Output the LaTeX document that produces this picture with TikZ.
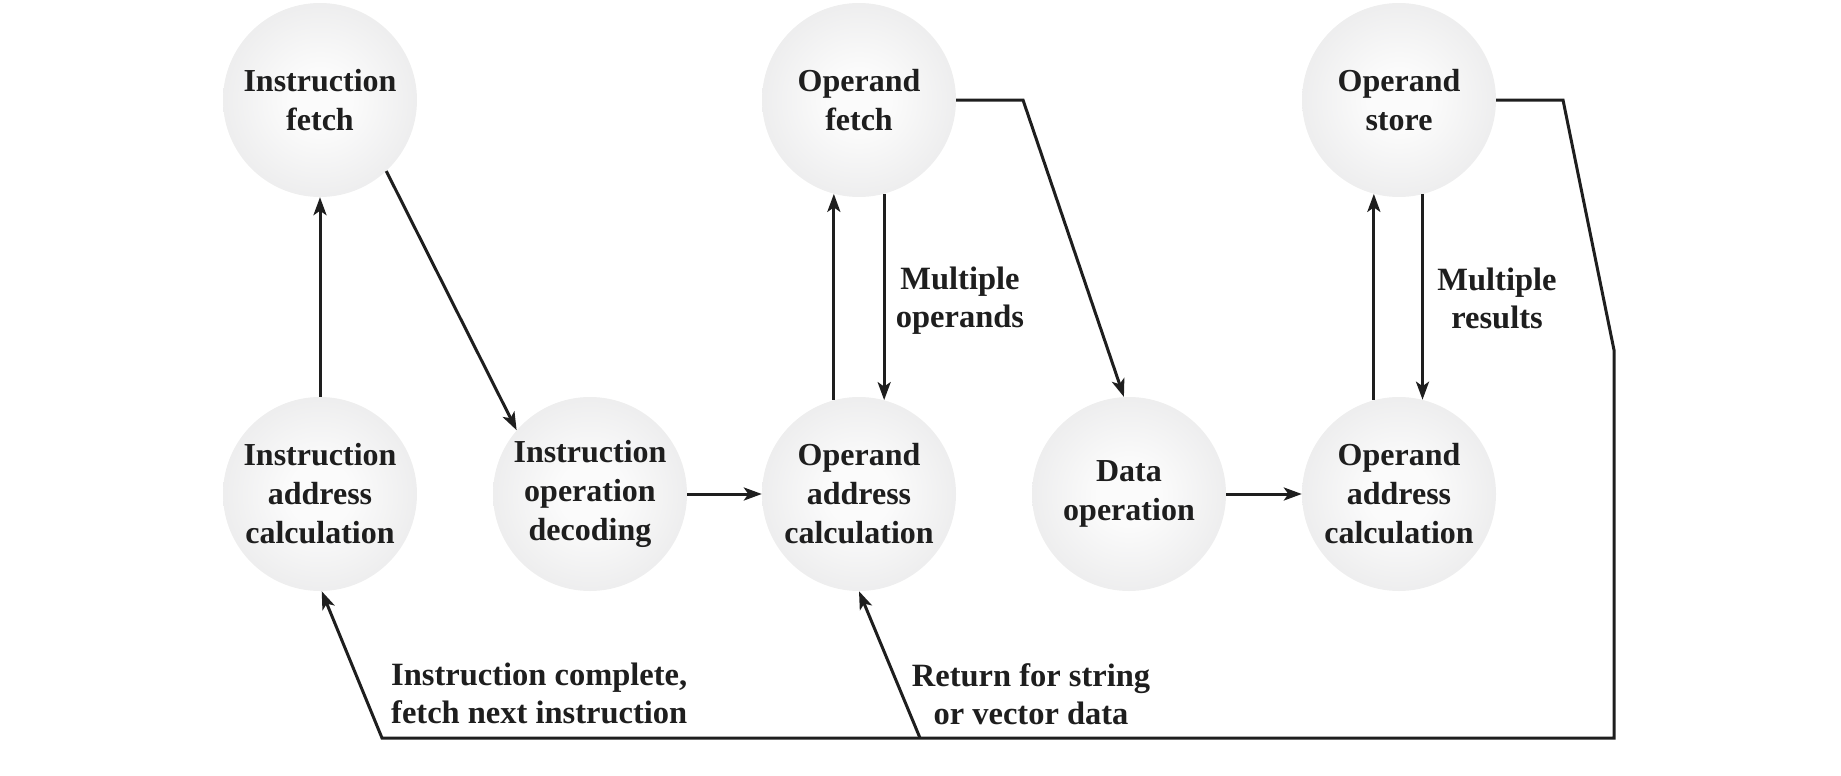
\documentclass[tikz,border=0pt]{standalone}
\usepackage{fontspec}
\setmainfont{Liberation Serif}
\usetikzlibrary{arrows.meta}
\definecolor{ink}{HTML}{1E1E1E}
\definecolor{ballin}{HTML}{FBFBFB}
\definecolor{ballmid}{HTML}{E8E8E9}
\definecolor{ballout}{HTML}{D0D0D2}
\pgfdeclareradialshading{ballshade}{\pgfpoint{0bp}{0bp}}{color(0bp)=(ballin); color(8bp)=(ballin); color(32bp)=(ballmid); color(50bp)=(ballout)}
\begin{document}
\begin{tikzpicture}[x=1pt,y=-1pt,
  stage/.style={circle, minimum size=194pt, inner sep=0pt, shading=ballshade, align=center, text=ink, font=\fontsize{32}{39}\selectfont\bfseries},
  lbl/.style={align=center, inner sep=0pt, text=ink, font=\fontsize{32.5}{38}\selectfont\bfseries},
  conn/.style={draw=ink, line width=3pt, -{Stealth[length=18pt,width=13pt,inset=4.5pt]}},
  wire/.style={draw=ink, line width=3pt}]
\useasboundingbox (0,0) rectangle (1841,776);
\node[stage] (IF) at (320,100) {Instruction\\fetch};
\node[stage] (IAC) at (320,494) {Instruction\\address\\calculation};
\node[stage] (IOD) at (590,494) {Instruction\\operation\\decoding};
\node[stage] (OF) at (859,100) {Operand\\fetch};
\node[stage] (OAC1) at (859,494) {Operand\\address\\calculation};
\node[stage] (DO) at (1129,494) {Data\\operation};
\node[stage] (OS) at (1399,100) {Operand\\store};
\node[stage] (OAC2) at (1399,494) {Operand\\address\\calculation};

\node[lbl] (lmo) at (960,301) {Multiple\\operands};
\node[lbl] (lmr) at (1497,298) {Multiple\\results};
\node[lbl, anchor=west, align=left] (lic) at (391,693) {Instruction complete,\\fetch next instruction};
\node[lbl] (lrs) at (1031,694) {Return for string\\or vector data};

\coordinate (f1) at (1023,100);
\coordinate (s1) at (1563,100);
\coordinate (s2) at (1614,350);
\coordinate (s3) at (1614,738);
\coordinate (s4) at (382,738);
\coordinate (br) at (920,738);

\draw[conn] (IAC.north) -- (IF.south);
\draw[conn] (IF.-47) -- (IOD.139);
\draw[conn] (IOD.east) -- (OAC1.west);
\draw[conn] (OAC1.105) -- (OF.-105);
\draw[conn] (OF.-75) -- (OAC1.75);
\draw[conn] (OF.east) -- (f1) -- (DO.93);
\draw[conn] (DO.east) -- (OAC2.west);
\draw[conn] (OAC2.105) -- (OS.-105);
\draw[conn] (OS.-76) -- (OAC2.76);
\draw[conn] (OS.east) -- (s1) -- (s2) -- (s3) -- (s4) -- (IAC.-89);
\draw[conn] (br) -- (OAC1.-90);
\end{tikzpicture}
\end{document}
